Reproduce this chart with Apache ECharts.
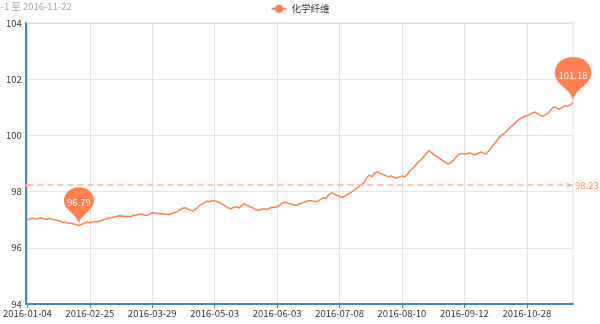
<!DOCTYPE html>
<html>
<head>
<meta charset="utf-8">
<title>化学纤维</title>
<script src="https://cdn.jsdelivr.net/npm/echarts@6/dist/echarts.min.js"></script>
<style>
  html, body { margin: 0; padding: 0; background: #fff; }
  #main { width: 600px; height: 324px; }
</style>
</head>
<body>
<div id="main"></div>
<script>
var seriesName = '化学纤维'
var subTitle = '2016-1-1 至 2016-11-22'

// 交易日
var dates = [
  '2016-01-04', '2016-01-05', '2016-01-06', '2016-01-07', '2016-01-08', '2016-01-11', '2016-01-12', '2016-01-13', '2016-01-14', '2016-01-15',
  '2016-01-18', '2016-01-19', '2016-01-20', '2016-01-21', '2016-01-22', '2016-01-25', '2016-01-26', '2016-01-27', '2016-01-28', '2016-01-29',
  '2016-02-01', '2016-02-02', '2016-02-03', '2016-02-25', '2016-02-26', '2016-02-29',
  '2016-03-01', '2016-03-02', '2016-03-03', '2016-03-04', '2016-03-07', '2016-03-08', '2016-03-09', '2016-03-10', '2016-03-11',
  '2016-03-14', '2016-03-15', '2016-03-16', '2016-03-17', '2016-03-18', '2016-03-21', '2016-03-22', '2016-03-23', '2016-03-24', '2016-03-25',
  '2016-03-28', '2016-03-29', '2016-03-30', '2016-03-31',
  '2016-04-01', '2016-04-05', '2016-04-06', '2016-04-07', '2016-04-08', '2016-04-11', '2016-04-12', '2016-04-13', '2016-04-14', '2016-04-15',
  '2016-04-18', '2016-04-19', '2016-04-20', '2016-04-21', '2016-04-22', '2016-04-25', '2016-04-26', '2016-04-27', '2016-04-28', '2016-04-29',
  '2016-05-03', '2016-05-04', '2016-05-05', '2016-05-06', '2016-05-09', '2016-05-10', '2016-05-11', '2016-05-12', '2016-05-13',
  '2016-05-16', '2016-05-17', '2016-05-18', '2016-05-19', '2016-05-20', '2016-05-23', '2016-05-24', '2016-05-25', '2016-05-26', '2016-05-27',
  '2016-05-30', '2016-05-31',
  '2016-06-01', '2016-06-02', '2016-06-03', '2016-06-06', '2016-06-07', '2016-06-08', '2016-06-13', '2016-06-14', '2016-06-15', '2016-06-16', '2016-06-17',
  '2016-06-20', '2016-06-21', '2016-06-22', '2016-06-23', '2016-06-24', '2016-06-27', '2016-06-28', '2016-06-29', '2016-06-30',
  '2016-07-01', '2016-07-04', '2016-07-05', '2016-07-06', '2016-07-07', '2016-07-08', '2016-07-11', '2016-07-12', '2016-07-13', '2016-07-14', '2016-07-15',
  '2016-07-18', '2016-07-19', '2016-07-20', '2016-07-21', '2016-07-22', '2016-07-25', '2016-07-26', '2016-07-27', '2016-07-28', '2016-07-29',
  '2016-08-01', '2016-08-02', '2016-08-03', '2016-08-04', '2016-08-05', '2016-08-08', '2016-08-09', '2016-08-10', '2016-08-11', '2016-08-12',
  '2016-08-15', '2016-08-16', '2016-08-17', '2016-08-18', '2016-08-19', '2016-08-22', '2016-08-23', '2016-08-24', '2016-08-25', '2016-08-26',
  '2016-08-29', '2016-08-30', '2016-08-31',
  '2016-09-01', '2016-09-02', '2016-09-05', '2016-09-06', '2016-09-07', '2016-09-08', '2016-09-09', '2016-09-12', '2016-09-13', '2016-09-14',
  '2016-09-19', '2016-09-20', '2016-09-21', '2016-09-22', '2016-09-23', '2016-09-26', '2016-09-27', '2016-09-28', '2016-09-29', '2016-09-30',
  '2016-10-10', '2016-10-11', '2016-10-12', '2016-10-13', '2016-10-14', '2016-10-17', '2016-10-18', '2016-10-19', '2016-10-20', '2016-10-21',
  '2016-10-28', '2016-10-31',
  '2016-11-01', '2016-11-02', '2016-11-03', '2016-11-04', '2016-11-07', '2016-11-08', '2016-11-09', '2016-11-10', '2016-11-11',
  '2016-11-14', '2016-11-15', '2016-11-16', '2016-11-17', '2016-11-18', '2016-11-21', '2016-11-22'
]

// 指数
var values = [
  97.00, 97.03, 97.05, 97.02, 97.04, 97.06, 97.03, 97.01, 97.04, 97.02,
  97.00, 96.97, 96.95, 96.92, 96.90, 96.88, 96.87, 96.85, 96.83, 96.79,
  96.84, 96.88, 96.91, 96.89, 96.92, 96.94, 96.93, 96.96, 97.00, 97.03,
  97.05, 97.07, 97.10, 97.12, 97.14, 97.13, 97.11, 97.12, 97.10, 97.15,
  97.16, 97.19, 97.21, 97.17, 97.15, 97.20, 97.25, 97.23, 97.22, 97.21,
  97.20, 97.19, 97.18, 97.21, 97.24, 97.28, 97.34, 97.40, 97.43, 97.38,
  97.34, 97.31, 97.38, 97.46, 97.54, 97.60, 97.66, 97.64, 97.68, 97.67,
  97.64, 97.60, 97.54, 97.48, 97.42, 97.39, 97.44, 97.46, 97.42, 97.51,
  97.56, 97.51, 97.46, 97.42, 97.36, 97.33, 97.36, 97.39, 97.36, 97.40,
  97.44, 97.43, 97.46, 97.52, 97.60, 97.62, 97.59, 97.56, 97.53, 97.51,
  97.56, 97.59, 97.62, 97.66, 97.68, 97.67, 97.65, 97.66, 97.72, 97.78,
  97.76, 97.88, 97.96, 97.92, 97.87, 97.83, 97.79, 97.84, 97.91, 97.95,
  98.03, 98.10, 98.17, 98.25, 98.31, 98.50, 98.59, 98.53, 98.66, 98.70,
  98.65, 98.61, 98.57, 98.53, 98.56, 98.51, 98.47, 98.52, 98.56, 98.52,
  98.62, 98.74, 98.83, 98.94, 99.05, 99.13, 99.24, 99.36, 99.45, 99.38,
  99.30, 99.24, 99.17, 99.10, 99.04, 98.98, 99.03, 99.12, 99.24, 99.33,
  99.36, 99.34, 99.35, 99.38, 99.33, 99.31, 99.36, 99.41, 99.37, 99.34,
  99.45, 99.58, 99.70, 99.82, 99.95, 100.03, 100.10, 100.20, 100.30, 100.38,
  100.47, 100.56, 100.62, 100.67, 100.70, 100.74, 100.80, 100.83, 100.77, 100.70,
  100.69, 100.74, 100.81, 100.92, 101.02, 100.97, 100.93, 101.00, 101.05, 101.05,
  101.08, 101.18
]

var yMin = 94
var yMax = 104
var yStep = 2

var chart = echarts.init(document.getElementById('main'))
chart.setOption({
  animation: false,
  color: ['#ff7f50'],
  textStyle: {
    fontFamily: '"Microsoft YaHei", "Noto Sans CJK SC", sans-serif'
  },
  title: {
    text: subTitle,
    left: -34,
    top: 0,
    padding: [2, 5],
    textStyle: {
      fontSize: 9.5,
      fontWeight: 'normal',
      color: '#aaa'
    }
  },
  legend: {
    top: 0,
    left: 'center',
    padding: [4, 5],
    itemWidth: 15,
    itemHeight: 10,
    textStyle: { fontSize: 9.5, color: '#333' },
    data: [seriesName]
  },
  grid: { // 右侧竖线用网格边框画
    left: 26,
    right: 27,
    top: 23,
    bottom: 20,
    show: true,
    borderWidth: 1,
    borderColor: '#e2e2e2'
  },
  xAxis: {
    type: 'category',
    boundaryGap: false,
    data: dates,
    axisLine: { lineStyle: { color: '#48b', width: 2 } },
    axisTick: { show: true, interval: 22, length: 4, lineStyle: { color: '#48b' } },
    axisLabel: { interval: 22, margin: 5, fontSize: 9.5, color: '#333' },
    splitLine: { show: true, interval: 22, lineStyle: { color: '#e2e2e2' } }
  },
  yAxis: {
    type: 'value',
    min: yMin,
    max: yMax,
    interval: yStep,
    offset: 1.5,
    axisLine: { show: true, lineStyle: { color: '#48b', width: 2 } },
    axisTick: { show: false },
    axisLabel: { margin: 4, fontSize: 9.5, color: '#333' },
    splitLine: { lineStyle: { color: '#e2e2e2' } }
  },
  series: [
    {
      name: seriesName,
      type: 'line',
      symbol: 'circle',
      showSymbol: false,
      data: values,
      lineStyle: { width: 1.5 },
      markPoint: {
        itemStyle: { borderWidth: 0 },
        label: { color: '#fff', fontSize: 9.5 },
        data: [
          { type: 'max', name: '最大值', symbolSize: [61, 52] },
          { type: 'min', name: '最小值', symbolSize: [50, 44] }
        ]
      },
      markLine: {
        symbol: ['circle', 'arrow'],
        symbolSize: [4, 7],
        label: { position: 'end', distance: 2, fontSize: 9.5, color: '#ff8c5e' },
        lineStyle: { type: [6, 4], width: 1.5, color: '#ffb596' },
        data: [
          { type: 'average', name: '平均值' }
        ]
      }
    }
  ]
})
</script>
</body>
</html>
